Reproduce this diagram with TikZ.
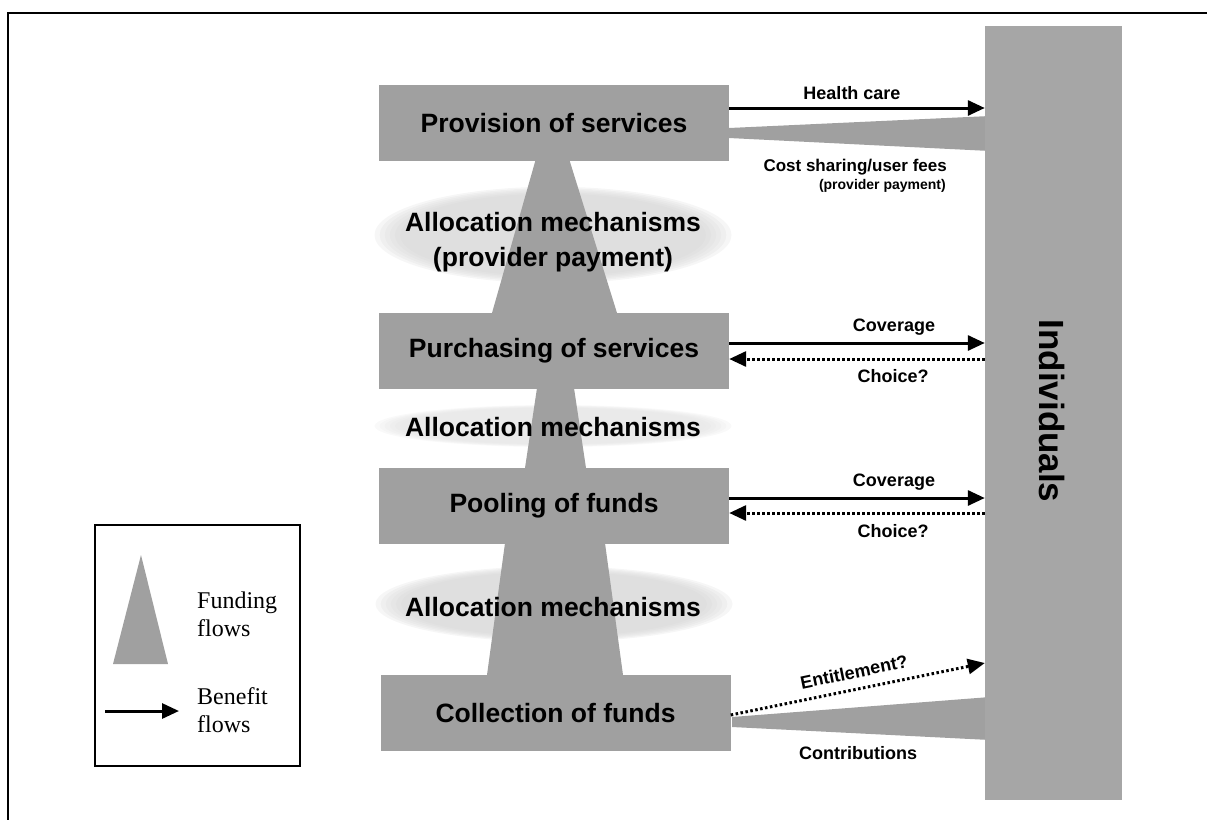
\documentclass[tikz,border=0pt]{standalone}
\usepackage{fontspec}
\setmainfont{Liberation Serif}
\newfontfamily\labelfont{Liberation Sans}
\usetikzlibrary{arrows.meta}

\definecolor{fundgray}{RGB}{160,160,160}
\definecolor{bargray}{RGB}{166,166,166}
\definecolor{mechgray}{RGB}{212,212,212}
\definecolor{mechlight}{RGB}{226,226,226}

\begin{document}
\begin{tikzpicture}[x=1pt, y=-1pt,
  stage/.style={fill=fundgray, minimum width=350pt, minimum height=76pt, inner sep=0pt,
    font=\labelfont\bfseries\fontsize{26.5}{32}\selectfont},
  mech/.style={inner sep=0pt, align=center,
    font=\labelfont\bfseries\fontsize{26.5}{35}\selectfont},
  flowlabel/.style={inner sep=0pt, font=\labelfont\bfseries\fontsize{18}{22}\selectfont},
  smalllabel/.style={inner sep=0pt, font=\labelfont\bfseries\fontsize{14}{17}\selectfont},
  legendtext/.style={inner sep=0pt, align=left, anchor=west, font=\fontsize{24}{28}\selectfont},
  benefit/.style={line width=3pt, -{Triangle[length=17pt,width=15pt]}},
  uncertain/.style={line width=3pt, dash pattern=on 2.5pt off 2.5pt, -{Triangle[length=17pt,width=15pt]}},
  softellipse/.style={fill=#1, fill opacity=0.2}
]
\useasboundingbox (0,0) rectangle (1207,820);

% page frame (top and left rules)
\draw[line width=2pt] (1207,13) -- (8,13) -- (8,820);

% soft-edged ellipses behind the allocation labels
\foreach \s in {1.05,1.02,0.99,0.96,0.93,0.90} {
  \fill[softellipse=mechgray] (553,235) ellipse [x radius=\s*170, y radius=\s*46];
  \fill[softellipse=mechlight] (553,426) ellipse [x radius=\s*170, y radius=\s*20];
  \fill[softellipse=mechgray] (554,604) ellipse [x radius=\s*170, y radius=\s*36];
}

% funding flows between the stages
\fill[fundgray] (538.4,150) -- (566.3,150) -- (619.2,320) -- (490,320) -- cycle;
\fill[fundgray] (538.2,380) -- (572.8,380) -- (587.2,476) -- (523.8,476) -- cycle;
\fill[fundgray] (506.1,535) -- (603.9,535) -- (624.1,683) -- (485.9,683) -- cycle;

% funding flows between individuals and the stages
\fill[fundgray] (729,128) -- (990,116) -- (990,151) -- (729,138) -- cycle;
\fill[fundgray] (732,717) -- (990,697) -- (990,740) -- (732,727) -- cycle;

% stages
\node[stage] (prov) at (554,123)   {Provision of services};
\node[stage] (purch) at (554,350.5) {Purchasing of services};
\node[stage] (pool) at (554,505.5) {Pooling of funds};
\node[stage] (coll) at (555.5,713) {Collection of funds};

% individuals
\node[fill=bargray, minimum width=137pt, minimum height=774pt, inner sep=0pt] (ind) at (1053.5,413) {};
\node[rotate=-90, inner sep=0pt, font=\labelfont\bfseries\fontsize{35}{40}\selectfont] (indtext) at (1052,411) {Individuals};

% allocation mechanisms
\node[mech] (m1) at (553,242) {Allocation mechanisms\\(provider payment)};
\node[mech] (m2) at (553,427) {Allocation mechanisms};
\node[mech] (m3) at (553,607) {Allocation mechanisms};

% benefit flows
\coordinate (hc) at (0,108);
\coordinate (cov1) at (0,343);
\coordinate (cho1) at (0,359);
\coordinate (cov2) at (0,498);
\coordinate (cho2) at (0,513);
\coordinate (ent1) at (0,715);
\coordinate (ent2) at (0,663);

\draw[benefit] (prov.east |- hc) -- (ind.west |- hc);
\draw[benefit] (purch.east |- cov1) -- (ind.west |- cov1);
\draw[uncertain] (ind.west |- cho1) -- (purch.east |- cho1);
\draw[benefit] (pool.east |- cov2) -- (ind.west |- cov2);
\draw[uncertain] (ind.west |- cho2) -- (pool.east |- cho2);
\draw[uncertain] (coll.east |- ent1) -- (ind.west |- ent2);

% flow labels
\node[flowlabel] (lhc) at (852,93) {Health care};
\node[flowlabel, anchor=east, font=\labelfont\bfseries\fontsize{17}{20}\selectfont] (lcs) at (947,167) {Cost sharing/user fees};
\node[smalllabel, anchor=east] (lpp) at (946,186) {(provider payment)};
\node[flowlabel] (lcov1) at (894,327) {Coverage};
\node[flowlabel] (lcho1) at (893,376) {Choice?};
\node[flowlabel] (lcov2) at (894,482) {Coverage};
\node[flowlabel] (lcho2) at (893,531) {Choice?};
\node[flowlabel, rotate=11.6] (lent) at (854,672) {Entitlement?};
\node[flowlabel] (lcon) at (858,753) {Contributions};

% legend
\node[draw, line width=2pt, minimum width=205pt, minimum height=241pt, inner sep=0pt] (legend) at (197.5,645.5) {};
\fill[fundgray] (141,555) -- (168,664) -- (113,664) -- cycle;
\node[legendtext] (lfund) at (197,614) {Funding\\flows};
\node[legendtext] (lben) at (197,710) {Benefit\\flows};
\coordinate (lgA) at (105,711);
\coordinate (lgB) at (179,711);
\draw[benefit] (lgA) -- (lgB);
\end{tikzpicture}
\end{document}
